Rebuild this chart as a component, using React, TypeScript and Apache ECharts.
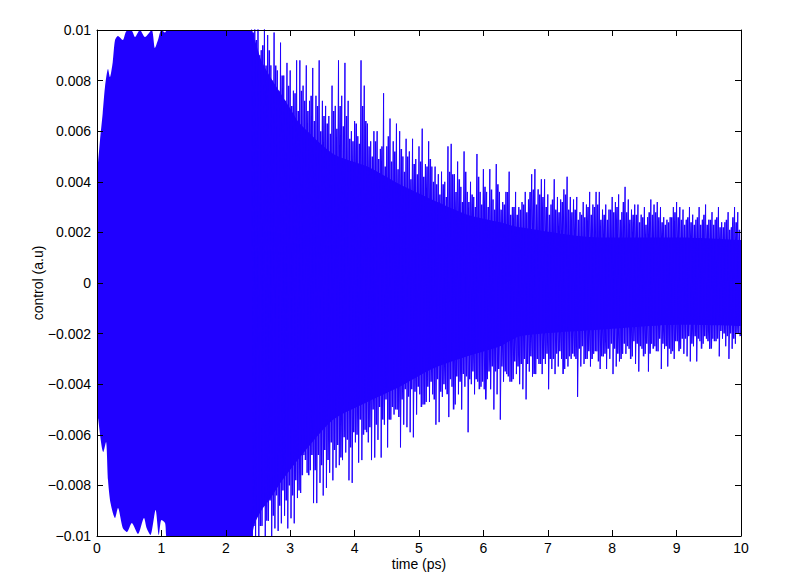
import React, { useEffect, useRef } from "react";
import * as echarts from "echarts";

// All amplitudes below are in units of 1e-3 a.u.
const coreUpperT = [0, 0.047, 0.088, 0.124, 0.171, 0.2, 0.244, 0.28, 0.326, 0.4, 0.46, 0.54, 0.59, 0.667, 0.745, 0.85, 0.9, 0.947, 1.0, 1.056, 1.12, 2.35, 2.45, 2.55, 2.7, 2.85, 3.0, 3.15, 3.67, 4.2, 4.7, 5.2, 5.75, 6.26, 6.57, 7.8, 9.05, 10];
const coreUpperV = [4.27, 5.65, 6.7, 7.75, 8.46, 8.14, 8.73, 9.6, 9.76, 9.6, 9.96, 9.96, 9.72, 10, 9.72, 10, 9.29, 9.6, 10, 9.9, 10.2, 10.2, 9.6, 8.8, 8.1, 7.5, 6.9, 6.3, 5.1, 4.6, 3.9, 3.3, 2.7, 2.4, 2.2, 1.8, 1.8, 1.7];

const coreLowerT = [0, 0.02, 0.098, 0.14, 0.171, 0.21, 0.28, 0.326, 0.4, 0.466, 0.54, 0.637, 0.73, 0.77, 0.83, 0.91, 0.96, 1.0, 1.056, 1.11, 2.35, 2.45, 2.55, 2.7, 2.85, 3.15, 3.67, 4.2, 4.7, 5.2, 5.75, 6.26, 6.57, 7.8, 9.05, 10];
const coreLowerV = [4.6, 5.4, 6.68, 6.28, 7.79, 8.7, 9.29, 8.89, 9.68, 9.84, 9.49, 9.92, 9.29, 9.68, 9.96, 8.97, 9.96, 9.37, 9.49, 10.2, 10.2, 9.5, 9.0, 8.5, 7.9, 6.9, 5.4, 4.7, 4.1, 3.4, 2.9, 2.5, 2.1, 1.85, 1.65, 1.7];

// Spike tips sampled every 0.05 ps from t = 2.4 ps to 10 ps.
const spikeStart = 2.4;
const spikeStep = 0.05;
const spikesUpper = [
  10.2, 10.2, 10.2, 9.2, 10.1, 9.8, 8.6, 9.9, 8.4, 9.5, 8.2, 8.7, 8.4, 7.6, 8.8,
  8.8, 7.8, 8.6, 7.2, 8.5, 7.4, 8.8, 7.2, 7.0, 6.6, 7.8, 7.0, 8.8, 7.4, 8.7, 7.2, 6.0, 6.4, 5.8, 8.8, 7.8, 6.3, 5.6, 6.0, 6.0, 5.3, 7.5, 5.4, 6.5, 5.6, 6.3, 6.0, 5.0, 5.7, 5.2, 5.7, 4.9, 5.4, 6.1, 4.7, 5.6, 4.6, 4.6, 4.3, 4.4, 4.0, 5.4, 5.5, 4.3, 4.8, 3.8, 5.2, 3.6, 4.0, 3.4, 5.1, 3.6, 4.5, 3.6, 4.5, 3.3, 4.7, 3.6, 3.2, 3.6, 4.4, 3.0, 3.6, 3.0,
  3.2, 3.6, 3.3, 4.3, 4.5, 3.7, 4.1, 4.1, 3.5, 3.1, 4.1, 3.4, 3.3, 3.7, 4.2, 3.4, 3.3, 3.4, 2.8, 3.2, 3.1, 3.6, 3.1, 3.6, 3.6, 2.9, 3.1, 2.9, 3.4, 3.2, 3.5, 2.8, 3.8, 3.3, 2.9, 3.1, 3.1, 2.7, 3.0, 2.6, 3.3, 3.1, 3.2, 3.0, 2.6, 2.5, 2.6, 3.0, 3.2, 3.0, 2.9, 2.5, 3.0, 2.7, 2.5, 3.0, 2.5, 3.1, 2.5, 2.8, 2.5, 3.0, 2.4, 2.4, 2.8, 2.2, 3.0, 2.8, 2.2,
];
const spikesLower = [
  10.2, 10.0, 10.2, 9.6, 10.2, 9.4, 10.2, 9.7, 9.8, 9.5, 9.2, 9.7, 9.3, 9.5, 8.5,
  8.3, 6.8, 7.5, 7.4, 8.7, 8.7, 7.9, 8.4, 8.1, 7.5, 7.8, 7.3, 7.2, 7.0, 6.7, 7.8, 7.9, 6.3, 7.1, 7.0, 5.8, 6.3, 7.0, 6.9, 6.2, 6.9, 5.6, 6.5, 5.4, 5.2, 5.0, 6.5, 5.6, 5.7, 5.9, 6.1, 5.2, 4.4, 4.8, 4.7, 4.7, 4.4, 5.6, 5.5, 4.5, 4.2, 5.3, 4.1, 4.8, 4.4, 5.0, 4.1, 5.9, 4.0, 4.4, 3.9, 4.1, 4.2, 3.8, 4.2, 5.0, 4.4, 5.4, 3.9, 3.6, 3.9, 3.8, 3.6, 4.0,
  4.2, 4.6, 3.5, 3.7, 3.6, 3.2, 3.6, 3.2, 4.2, 3.4, 3.6, 3.3, 3.0, 3.4, 3.3, 3.0, 2.9, 4.5, 3.3, 3.2, 3.0, 3.3, 2.8, 2.7, 3.4, 2.9, 3.4, 3.0, 3.6, 3.3, 3.1, 2.8, 2.8, 2.6, 2.9, 3.2, 3.5, 2.6, 2.8, 3.5, 2.4, 2.5, 2.7, 3.4, 2.6, 3.3, 2.8, 3.0, 2.3, 2.6, 2.8, 2.9, 3.1, 2.5, 3.1, 2.3, 2.4, 2.2, 2.6, 2.2, 2.3, 2.9, 2.2, 2.5, 3.0, 2.6, 2.4, 2.0, 2.0,
];

// Denser, shorter oscillations that sit between the spike tips.
const midUpper = [
  9.9, 9.6, 9.0, 9.4, 8.6, 9.2, 8.0, 8.6, 7.6, 8.2, 7.2, 7.8, 7.0, 7.5, 6.8, 7.6,
  7.2, 6.8, 7.4, 6.4, 7.0, 6.0, 6.6, 6.3, 5.9, 6.8, 6.1, 7.0, 6.2, 6.6, 5.7, 5.6, 6.3, 5.5, 7.0, 6.4,
  5.4, 5.0, 5.6, 4.9, 5.4, 4.6, 5.8, 4.8, 5.2, 4.5, 5.3, 4.4, 5.0, 4.1, 4.7, 4.3, 4.8, 4.2, 4.6, 4.9,
  4.0, 3.9, 3.5, 3.9, 3.4, 4.4, 4.3, 3.6, 4.1, 3.2, 4.4, 3.2, 3.5, 3.0, 4.2, 3.1, 3.8, 3.0, 3.7, 2.9, 3.9,
  2.9, 3.1, 3.6, 2.7, 3.0, 2.7, 2.9, 3.1, 2.8, 3.6, 3.7, 3.1, 3.5, 3.4, 3.0, 2.7, 3.3, 2.9, 2.8, 3.2, 3.5, 2.9, 2.8, 2.9, 2.5, 2.7, 2.6, 3.0, 2.7, 3.0, 3.1,
  2.5, 2.7, 2.5, 2.9, 2.8, 3.0, 2.5, 3.2, 2.8, 2.5, 2.7, 2.7, 2.4, 2.6, 2.3, 2.8, 2.7, 2.8, 2.6, 2.4, 2.3, 2.4, 2.6, 2.8, 2.6, 2.5, 2.3, 2.6, 2.4, 2.3, 2.6, 2.3, 2.7, 2.3, 2.5, 2.3, 2.6, 2.2, 2.2, 2.5, 2.1, 2.6, 2.4, 2.1, 2.0,
];
const midLower = [
  9.6, 9.2, 9.6, 8.8, 9.4, 8.6, 9.2, 8.4, 8.8, 8.2, 8.6, 8.0, 8.4, 7.8, 8.2, 7.6,
  7.0, 7.6, 6.8, 7.4, 6.8, 7.2, 6.6, 7.0, 6.3, 6.6, 6.4, 6.9, 6.1, 6.2, 6.5, 5.9, 6.0, 5.4, 6.0, 5.9,
  5.7, 5.0, 5.6, 4.9, 5.4, 4.6, 5.4, 4.9, 5.0, 5.3, 4.6, 4.2, 4.5, 4.2, 4.3, 4.1, 4.9, 4.8, 4.1, 3.9,
  4.6, 3.8, 4.3, 4.0, 4.4, 3.8, 5.0, 3.7, 3.9, 3.6, 3.7, 3.8, 3.5, 3.8, 4.2, 3.9, 4.6, 3.5, 3.3, 3.5, 3.4,
  3.3, 3.5, 3.7, 3.9, 3.1, 3.3, 3.2, 3.0, 3.2, 2.9, 3.6, 3.0, 3.2, 3.0, 2.8, 3.0, 3.0, 2.8, 2.7, 3.6, 3.0, 2.9, 2.8, 3.0, 2.6, 2.5, 3.0, 2.7, 3.0, 2.7, 3.1,
  2.9, 2.8, 2.6, 2.4, 2.6, 2.8, 3.0, 2.4, 2.5, 3.0, 2.3, 2.4, 2.5, 2.9, 2.4, 2.8, 2.6, 2.7, 2.2, 2.4, 2.5, 2.6, 2.7, 2.3, 2.7, 2.2, 2.2, 2.1, 2.4, 2.1, 2.2, 2.6, 2.1, 2.3, 2.6, 2.3, 2.2, 1.9, 2.0, 2.1, 2.0, 2.2, 2.0, 2.1, 1.9,
];

const xTickLabels = ["0", "1", "2", "3", "4", "5", "6", "7", "8", "9", "10"];
const yTickLabels = ["−0.01", "−0.008", "−0.006", "−0.004", "−0.002", "0", "0.002", "0.004", "0.006", "0.008", "0.01"];

const BLUE = "#2000ff";
const FONT = "'Liberation Sans', Arial, sans-serif";
const UNIT = 1e-3;

function zigzagOf(up: number[], down: number[], offset: number) {
  const out: [number, number][] = [];
  up.forEach((u, i) => {
    const t = spikeStart + offset + i * spikeStep;
    if (t <= 9.99) out.push([t, u * UNIT]);
    if (t + spikeStep / 4 <= 9.99) out.push([t + spikeStep / 4, -down[i] * UNIT]);
  });
  return out;
}

export default function App() {
  const ref = useRef<HTMLDivElement>(null);
  useEffect(() => {
    const chart = echarts.init(ref.current!, undefined, { renderer: "svg" });
    const upperCore = coreUpperT.map((t, i) => [t, coreUpperV[i] * UNIT]);
    const lowerCore = coreLowerT.map((t, i) => [t, -coreLowerV[i] * UNIT]);
    const frame = { show: true, onZero: false, lineStyle: { color: "#000", width: 1 } };
    const tick = { show: true, inside: true, length: 6, lineStyle: { color: "#000", width: 1 } };
    const xBase = { type: "value", min: 0, max: 10, interval: 1, splitLine: { show: false }, axisLine: frame, axisTick: tick, z: 10 };
    const yBase = { type: "value", min: -0.01, max: 0.01, interval: 0.002, splitLine: { show: false }, axisLine: frame, axisTick: tick, z: 10 };
    const area = {
      type: "line",
      symbol: "none",
      smooth: 0.25,
      lineStyle: { width: 0 },
      areaStyle: { color: BLUE, opacity: 1, origin: 0 },
      silent: true,
    };
    chart.setOption({
      animation: false,
      backgroundColor: "#fff",
      textStyle: { fontFamily: FONT },
      grid: { left: 97, top: 30, width: 644, height: 506, containLabel: false },
      xAxis: [
        {
          ...xBase,
          position: "bottom",
          name: "time (ps)",
          nameLocation: "middle",
          nameGap: 21,
          nameMoveOverlap: false,
          nameTextStyle: { color: "#000", fontSize: 14, fontFamily: FONT },
          axisLabel: {
            color: "#000",
            fontSize: 14,
            fontFamily: FONT,
            margin: 5,
            formatter: (v: number) => xTickLabels[Math.round(v)],
          },
        },
        { ...xBase, position: "top", axisLabel: { show: false } },
      ],
      yAxis: [
        {
          ...yBase,
          position: "left",
          name: "control (a.u)",
          nameLocation: "middle",
          nameGap: 52,
          nameRotate: 90,
          nameMoveOverlap: false,
          nameTextStyle: { color: "#000", fontSize: 14, fontFamily: FONT },
          axisLabel: {
            color: "#000",
            fontSize: 14,
            fontFamily: FONT,
            margin: 6,
            formatter: (v: number) => yTickLabels[Math.round((v + 0.01) / 0.002)],
          },
        },
        { ...yBase, position: "right", axisLabel: { show: false } },
      ],
      series: [
        { ...area, name: "core upper", data: upperCore },
        { ...area, name: "core lower", data: lowerCore },
        {
          name: "control mid",
          type: "line",
          data: zigzagOf(midUpper, midLower, spikeStep / 2),
          symbol: "none",
          lineStyle: { color: BLUE, width: 1.6, join: "bevel" },
          silent: true,
        },
        {
          name: "control",
          type: "line",
          data: zigzagOf(spikesUpper, spikesLower, 0),
          symbol: "none",
          lineStyle: { color: BLUE, width: 1, join: "bevel" },
          silent: true,
        },
      ],
    });
    return () => chart.dispose();
  }, []);
  return <div ref={ref} style={{ position: "fixed", left: 0, top: 0, width: 786, height: 581 }} />;
}
